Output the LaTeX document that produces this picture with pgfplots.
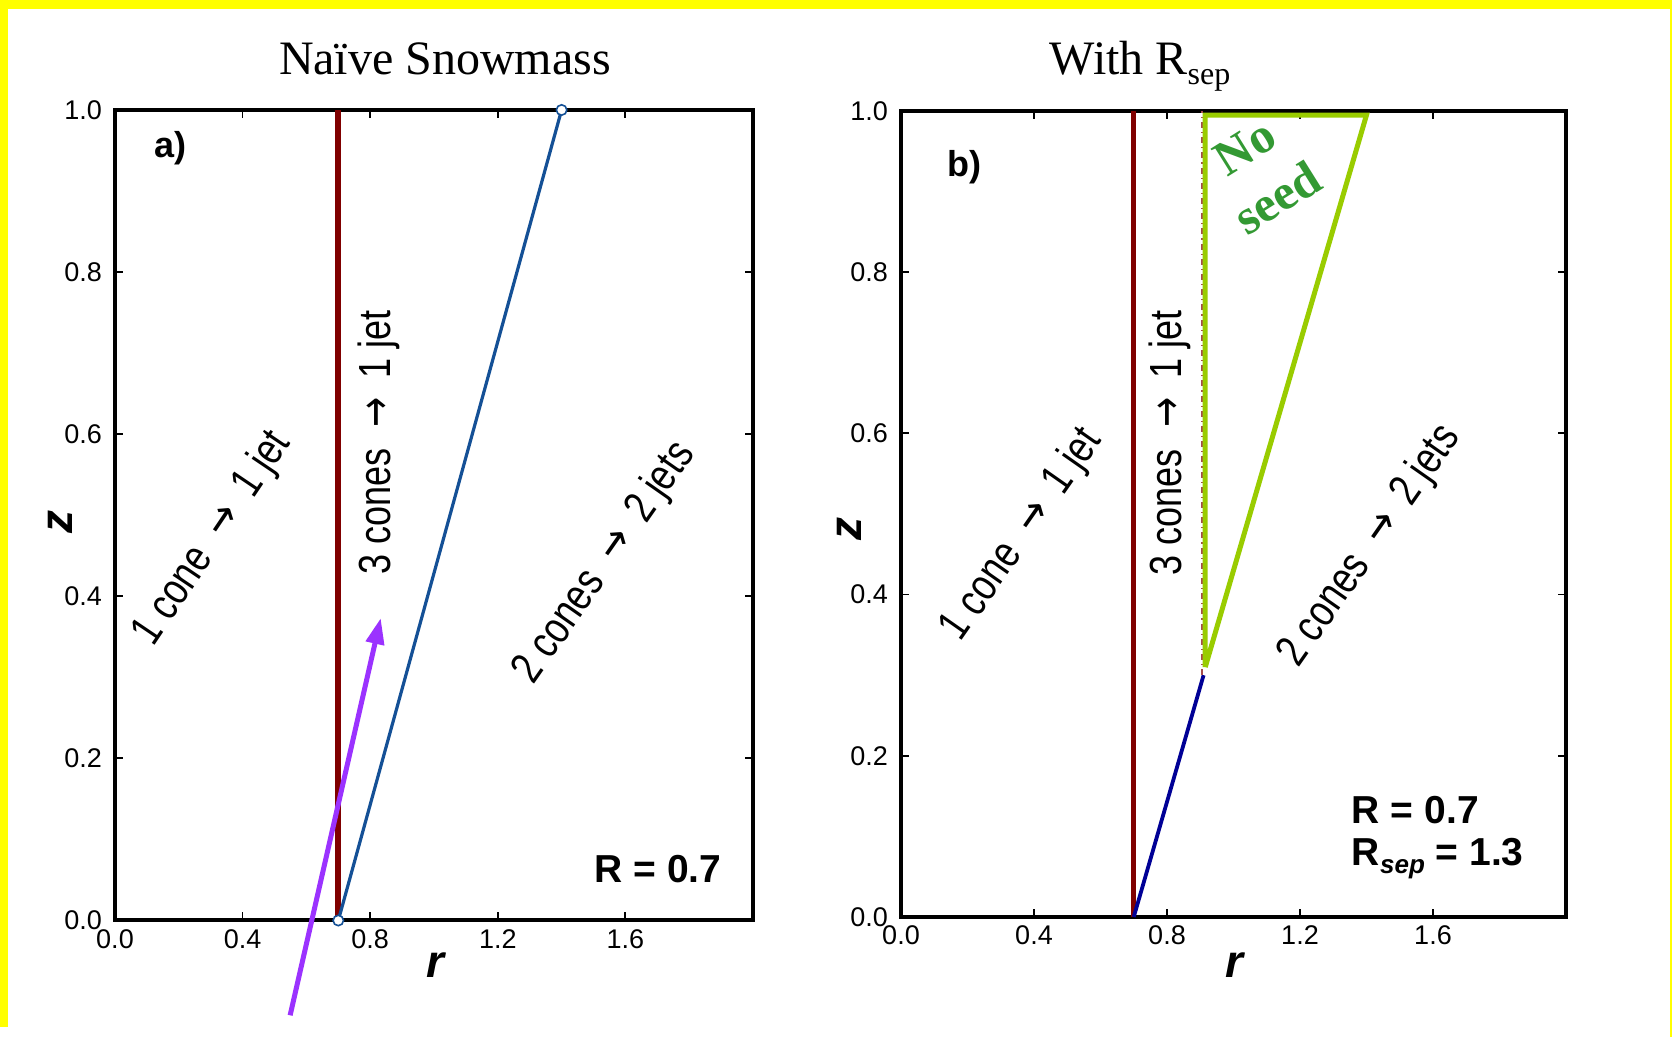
\documentclass[border=0pt]{standalone}
\usepackage{fontspec}
\setmainfont{Liberation Serif}
\newfontfamily\hel{Liberation Sans}
\newfontfamily\heln[FakeStretch=0.8]{Liberation Sans}
\newfontfamily\dvn[FakeStretch=0.8]{DejaVu Sans}
\usepackage{pgfplots}
\pgfplotsset{compat=1.18}
\usetikzlibrary{arrows.meta}
\definecolor{darkred}{RGB}{128,0,0}
\definecolor{bluea}{RGB}{20,80,150}
\definecolor{navyb}{RGB}{0,0,150}
\definecolor{lgreen}{RGB}{153,204,0}
\definecolor{tgreen}{RGB}{51,153,51}
\definecolor{purp}{RGB}{155,50,255}
\definecolor{yel}{RGB}{255,255,0}
\newcommand{\arr}{\hspace{0.25em}{\dvn →}\hspace{0.2em}}
\newcommand{\reg}{\heln\fontsize{22.5}{22.5}\selectfont}
\pgfplotsset{myaxis/.style={
  scale only axis, xmin=0, xmax=2, ymin=0, ymax=1,
  xtick={0,0.4,0.8,1.2,1.6}, ytick={0,0.2,0.4,0.6,0.8,1},
  tick align=inside, major tick length=4pt,
  tick style={black, line width=0.9pt},
  ticklabel style={font=\hel\fontsize{13.5}{13.5}\selectfont},
  yticklabel style={xshift=-3pt},
  xticklabel style={yshift=-1pt},
  /pgf/number format/.cd, fixed, fixed zerofill, precision=1, assume math mode=true,
  /pgfplots/.cd,
  clip=false, anchor=south west,
  xlabel={r}, ylabel={z},
  xlabel style={font=\hel\bfseries\itshape\fontsize{23}{23}\selectfont, anchor=center},
  ylabel style={font=\hel\bfseries\itshape\fontsize{23}{23}\selectfont, anchor=center},
}}
\begin{document}
\begin{tikzpicture}
\useasboundingbox (0,0) rectangle (836pt,518.5pt);
\fill[white] (0,0) rectangle (836pt,518.5pt);
\fill[yel] (0,514pt) rectangle (836pt,518.5pt);
\fill[yel] (0,5pt) rectangle (3.75pt,518.5pt);
\fill[yel] (835pt,0pt) rectangle (836pt,518.5pt);

% Panel a
\begin{axis}[myaxis, width=319pt, height=405.25pt, at={(57.5pt,58.25pt)},
  axis line style={line width=2pt},
  xlabel style={at={(axis description cs:0.502,-0.055)}},
  ylabel style={at={(axis description cs:-0.085,0.492)}}]
\addplot[darkred, line width=3pt] coordinates {(0.7,0) (0.7,1)};
\addplot[bluea, line width=1.6pt] coordinates {(0.7,0) (1.4,1)};
\addplot[only marks, mark=*, mark size=2.6pt, mark options={draw=bluea, fill=white, line width=0.8pt}] coordinates {(0.7,0) (1.4,1)};
\addplot[purp, line width=2.5pt, -{Triangle[length=13pt, width=9pt]}] coordinates {(0.549,-0.117) (0.833,0.373)};
\node[rotate=56, font=\reg] at (axis cs:0.307,0.471) {1 cone \arr{} 1 jet};
\node[rotate=90, font=\reg] at (axis cs:0.826,0.590) {3 cones \arr{} 1 jet};
\node[rotate=55, font=\reg] at (axis cs:1.536,0.441) {2 cones \arr{} 2 jets};
\node[font=\hel\bfseries\fontsize{18}{18}\selectfont] at (axis cs:0.174,0.953) {a)};
\node[font=\hel\bfseries\fontsize{19.5}{19.5}\selectfont] at (axis cs:1.702,0.064) {R = 0.7};
\end{axis}

% Panel b
\begin{axis}[myaxis, width=332.5pt, height=403pt, at={(450.5pt,60pt)},
  axis line style={line width=1.6pt},
  xlabel style={at={(axis description cs:0.502,-0.060)}},
  ylabel style={at={(axis description cs:-0.077,0.481)}}]
\addplot[darkred, line width=2.6pt] coordinates {(0.7,0) (0.7,1)};
\addplot[navyb, line width=1.9pt] coordinates {(0.7,0) (0.91,0.3)};
\addplot[darkred!70, line width=0.6pt, dash dot] coordinates {(0.905,0.3) (0.905,1)};
\addplot[lgreen, line width=2.5pt] coordinates {(0.915,0.31) (0.915,0.995) (1.4,0.995) (0.915,0.31)};
\node[rotate=55, font=\reg] at (axis cs:0.364,0.474) {1 cone \arr{} 1 jet};
\node[rotate=90, font=\reg] at (axis cs:0.809,0.588) {3 cones \arr{} 1 jet};
\node[rotate=55, font=\reg] at (axis cs:1.411,0.460) {2 cones \arr{} 2 jets};
\node[font=\hel\bfseries\fontsize{18}{18}\selectfont] at (axis cs:0.192,0.930) {b)};
\node[anchor=west, font=\hel\bfseries\fontsize{19.5}{19.5}\selectfont] at (axis cs:1.335,0.133) {R = 0.7};
\node[anchor=west, font=\hel\bfseries\fontsize{19.5}{19.5}\selectfont] at (axis cs:1.335,0.072) {R\raisebox{-4pt}{\fontsize{13}{13}\selectfont\itshape sep} = 1.3};
\node[rotate=32, text=tgreen, font=\bfseries\fontsize{25}{25}\selectfont] at (axis cs:1.035,0.955) {No};
\node[rotate=32, text=tgreen, font=\bfseries\fontsize{25}{25}\selectfont] at (axis cs:1.131,0.893) {seed};
\end{axis}

\node[anchor=base, font=\fontsize{24}{24}\selectfont] at (222.5pt,481.2pt) {Naïve Snowmass};
\node[anchor=base, font=\fontsize{24}{24}\selectfont] at (570pt,481.2pt) {With R\raisebox{-5pt}{\fontsize{16}{16}\selectfont sep}};
\end{tikzpicture}
\end{document}
